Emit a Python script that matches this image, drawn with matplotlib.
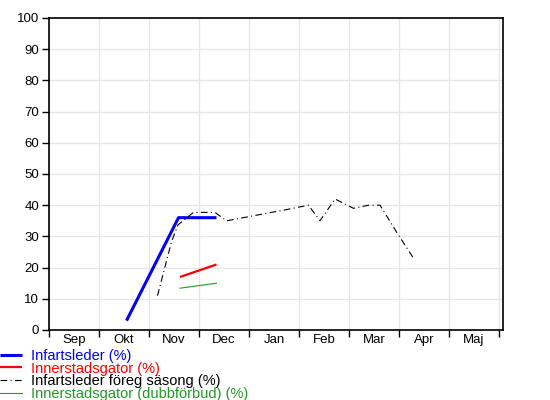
import matplotlib
matplotlib.use("Agg")
import matplotlib.pyplot as plt

months = ["Sep", "Okt", "Nov", "Dec", "Jan", "Feb", "Mar", "Apr", "Maj"]
yticks = list(range(0, 101, 10))

# x in month units (0 = start of Sep)
infart_x = [1.55, 2.59, 3.35]
infart_y = [3, 36, 36]

inner_x = [2.62, 3.35]
inner_y = [17, 21]

dubb_x = [2.62, 3.35]
dubb_y = [13.4, 15]

prev_x = [2.17, 2.45, 2.58, 2.89, 3.32, 3.55, 4.72, 5.19, 5.42, 5.72, 6.09, 6.39, 6.62, 6.99, 7.29]
prev_y = [11, 28.3, 33.7, 37.7, 37.7, 35, 38.5, 40, 35, 42, 39, 40, 40, 30.4, 23]

labels = ["Infartsleder (%)", "Innerstadsgator (%)",
          "Infartsleder föreg säsong (%)", "Innerstadsgator (dubbförbud) (%)"]
colors = ["#0000ff", "#ff0000", "#000000", "#229922"]

plt.rcParams['font.family'] = ['Liberation Sans', 'DejaVu Sans']

fig = plt.figure(figsize=(5.5, 4), dpi=100, facecolor="white")
ax = fig.add_axes([49/550, 70/400, (503-49)/550, (330-18)/400])
ax.set_facecolor("white")

h1, = ax.plot(infart_x, infart_y, color=colors[0], lw=2.2, solid_capstyle='butt')
h2, = ax.plot(inner_x, inner_y, color=colors[1], lw=1.6, solid_capstyle='butt')
h3, = ax.plot(prev_x, prev_y, color=colors[2], lw=0.8, linestyle=(0, (6, 3, 1, 3)))
h4, = ax.plot(dubb_x, dubb_y, color=colors[3], lw=0.8)

ax.set_xlim(0, 9.08)
ax.set_ylim(0, 100)
ax.set_yticks(yticks)
ax.set_xticks(range(0, 10))
ax.set_xticklabels([])
ax.set_xticks([i + 0.5 for i in range(9)], minor=True)
ax.set_xticklabels(months, minor=True)
ax.tick_params(axis='x', which='minor', length=0, pad=3, labelsize=9.5)
ax.tick_params(axis='x', which='major', length=5, width=1, direction='out')
ax.tick_params(axis='y', length=5, width=1, direction='out', labelsize=9.5, pad=2)
ax.grid(True, which='major', color='#e6e6e6', lw=0.9)
ax.set_axisbelow(True)
for s in ax.spines.values():
    s.set_color('black')
    s.set_linewidth(1.2)

leg = fig.legend([h1, h2, h3, h4], labels, loc='upper left',
                 bbox_to_anchor=(0, 1 - 349/400), frameon=False,
                 borderaxespad=0, borderpad=0, handlelength=1.5,
                 handletextpad=0.62, labelspacing=-0.1, fontsize=10.5)
for t, c in zip(leg.get_texts(), colors):
    t.set_color(c)

fig.savefig("out.png", dpi=100, facecolor="white")
